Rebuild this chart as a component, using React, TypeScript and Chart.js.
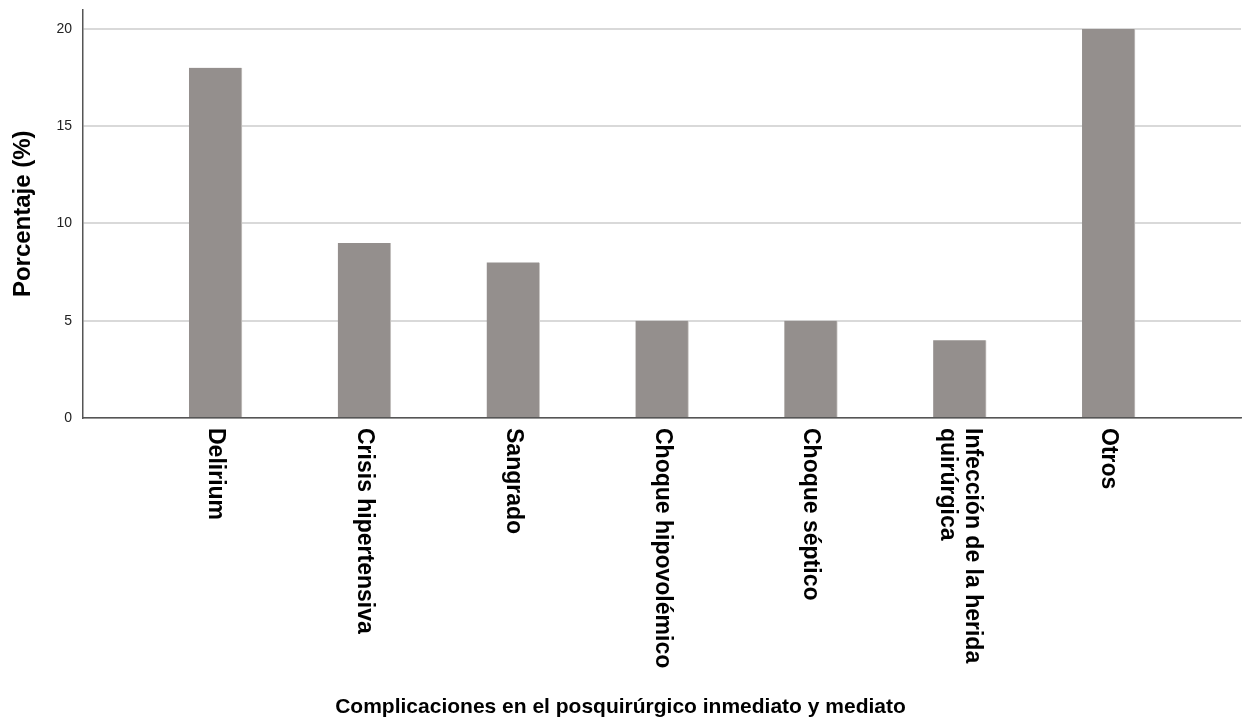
import React, { useEffect, useRef } from 'react';
import { Chart, registerables } from 'chart.js';

Chart.register(...registerables);

const categories: (string | string[])[] = [
  'Delirium',
  'Crisis hipertensiva',
  'Sangrado',
  'Choque hipovolémico',
  'Choque séptico',
  ['Infección de la herida', 'quirúrgica'],
  'Otros',
];
const values = [18, 9, 8, 5, 5, 4, 20];
const yTicks = [0, 5, 10, 15, 20];
const yTitle = 'Porcentaje (%)';
const xTitle = 'Complicaciones en el posquirúrgico inmediato y mediato';

const FONT = '"Liberation Sans", Arial, Helvetica, sans-serif';

const rotatedLabels = {
  id: 'rotatedLabels',
  afterDraw(chart: any) {
    const xs = chart.scales.x;
    const ctx = chart.ctx as CanvasRenderingContext2D;
    ctx.save();
    ctx.font = `bold 23px ${FONT}`;
    ctx.fillStyle = '#000';
    ctx.textAlign = 'left';
    ctx.textBaseline = 'middle';
    const lh = 25;
    categories.forEach((label, i) => {
      const lines = Array.isArray(label) ? label : [label];
      const px = xs.getPixelForValue(i);
      ctx.save();
      ctx.translate(px, xs.top + 10);
      ctx.rotate(Math.PI / 2);
      lines.forEach((line, j) => {
        const off = (j - (lines.length - 1) / 2) * lh;
        ctx.fillText(line, 0, off);
      });
      ctx.restore();
    });
    ctx.restore();
  },
};

export default function App() {
  const ref = useRef<HTMLCanvasElement | null>(null);
  useEffect(() => {
    if (!ref.current) return;
    Chart.defaults.font.family = FONT;
    const chart = new Chart(ref.current, {
      type: 'bar',
      data: {
        datasets: [
          {
            data: values.map((v, i) => ({ x: i, y: v })),
            backgroundColor: '#948f8d',
            borderColor: '#c9c6c4',
            borderWidth: { top: 0, left: 0, bottom: 0, right: 1 },
            borderSkipped: false,
            barThickness: 53,
          } as any,
        ],
      },
      options: {
        animation: false,
        responsive: true,
        maintainAspectRatio: false,
        devicePixelRatio: 1,
        layout: { padding: { top: 9.5, right: 4, left: 0, bottom: 0 } },
        plugins: {
          legend: { display: false },
          tooltip: { enabled: false },
          title: {
            display: true,
            position: 'bottom',
            text: xTitle,
            color: '#000',
            font: { size: 21, weight: 'bold' },
            padding: { top: 0, bottom: 2 },
          },
        },
        scales: {
          x: {
            type: 'linear',
            min: -0.89,
            max: 6.89,
            offset: false,
            ticks: { display: false },
            grid: { display: false },
            border: { display: true, color: '#555', width: 1.5 },
            afterFit: (s: any) => {
              s.height = 722 - 418 - 27.2;
            },
          },
          y: {
            min: 0,
            max: 21,
            afterBuildTicks: (s: any) => {
              s.ticks = yTicks.map((v) => ({ value: v }));
            },
            afterFit: (s: any) => {
              s.width = 83;
              s.paddingTop = 0;
            },
            ticks: { font: { size: 14 }, color: '#222', padding: 11 },
            grid: { color: '#d9d9d9', lineWidth: 2, drawTicks: false },
            border: { display: true, color: '#555', width: 1.5 },
            title: {
              display: true,
              text: yTitle,
              color: '#000',
              font: { size: 24, weight: 'bold' },
              padding: { top: 9, bottom: 0 },
            },
          },
        },
      } as any,
      plugins: [rotatedLabels],
    });
    return () => chart.destroy();
  }, []);
  return (
    <div style={{ position: 'fixed', left: 0, top: 0, width: 1245, height: 722, background: '#fff' }}>
      <canvas ref={ref} />
    </div>
  );
}
